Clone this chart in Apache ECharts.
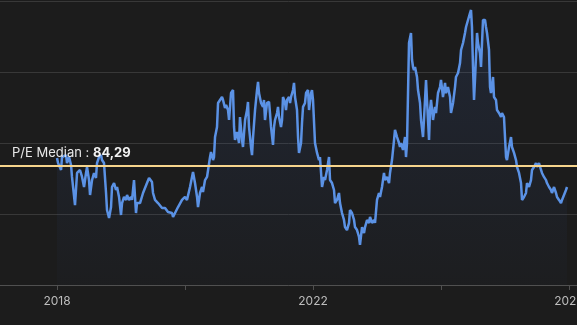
<!DOCTYPE html>
<html>
<head>
<meta charset="utf-8">
<script src="https://cdn.jsdelivr.net/npm/echarts@6/dist/echarts.min.js"></script>
<style>
  html, body { margin: 0; padding: 0; background: #1c1c1c; }
  #chart { width: 577px; height: 325px; }
</style>
</head>
<body>
<div id="chart"></div>
<script>
// dates as decimal years
const years = [
  2018.000, 2018.016, 2018.063, 2018.078, 2018.141, 2018.156, 2018.188, 2018.219, 2018.234, 2018.281,
  2018.313, 2018.359, 2018.391, 2018.422, 2018.453, 2018.469, 2018.500, 2018.516, 2018.547, 2018.578,
  2018.609, 2018.625, 2018.656, 2018.688, 2018.703, 2018.734, 2018.766, 2018.781, 2018.813, 2018.844,
  2018.859, 2018.891, 2018.922, 2018.938, 2018.969, 2019.000, 2019.016, 2019.047, 2019.078, 2019.094,
  2019.125, 2019.156, 2019.172, 2019.203, 2019.234, 2019.250, 2019.281, 2019.297, 2019.344, 2019.406,
  2019.438, 2019.484, 2019.500, 2019.531, 2019.578, 2019.641, 2019.688, 2019.734, 2019.797, 2019.813,
  2019.844, 2019.891, 2019.953, 2020.000, 2020.031, 2020.078, 2020.125, 2020.156, 2020.188, 2020.203,
  2020.234, 2020.266, 2020.281, 2020.313, 2020.344, 2020.359, 2020.391, 2020.406, 2020.438, 2020.453,
  2020.469, 2020.500, 2020.516, 2020.578, 2020.594, 2020.625, 2020.641, 2020.672, 2020.688, 2020.719,
  2020.750, 2020.766, 2020.781, 2020.813, 2020.844, 2020.859, 2020.891, 2020.906, 2020.938, 2020.969,
  2020.984, 2021.000, 2021.031, 2021.047, 2021.063, 2021.094, 2021.125, 2021.141, 2021.156, 2021.188,
  2021.219, 2021.234, 2021.250, 2021.281, 2021.313, 2021.328, 2021.344, 2021.375, 2021.391, 2021.406,
  2021.438, 2021.453, 2021.469, 2021.500, 2021.516, 2021.531, 2021.563, 2021.578, 2021.594, 2021.625,
  2021.641, 2021.656, 2021.688, 2021.703, 2021.719, 2021.750, 2021.766, 2021.781, 2021.813, 2021.828,
  2021.844, 2021.875, 2021.891, 2021.922, 2021.938, 2021.969, 2021.984, 2022.000, 2022.031, 2022.063,
  2022.094, 2022.109, 2022.141, 2022.172, 2022.188, 2022.219, 2022.250, 2022.266, 2022.297, 2022.328,
  2022.344, 2022.375, 2022.406, 2022.422, 2022.453, 2022.484, 2022.500, 2022.531, 2022.563, 2022.578,
  2022.609, 2022.641, 2022.656, 2022.688, 2022.719, 2022.734, 2022.766, 2022.797, 2022.813, 2022.844,
  2022.875, 2022.891, 2022.922, 2022.953, 2022.969, 2023.000, 2023.031, 2023.047, 2023.078, 2023.109,
  2023.125, 2023.156, 2023.188, 2023.203, 2023.234, 2023.266, 2023.281, 2023.313, 2023.344, 2023.359,
  2023.375, 2023.406, 2023.438, 2023.453, 2023.469, 2023.500, 2023.531, 2023.547, 2023.563, 2023.578,
  2023.594, 2023.625, 2023.641, 2023.672, 2023.688, 2023.719, 2023.750, 2023.766, 2023.781, 2023.813,
  2023.828, 2023.844, 2023.875, 2023.906, 2023.922, 2023.953, 2023.984, 2024.000, 2024.031, 2024.063,
  2024.078, 2024.109, 2024.141, 2024.156, 2024.188, 2024.219, 2024.234, 2024.266, 2024.297, 2024.313,
  2024.344, 2024.375, 2024.391, 2024.422, 2024.453, 2024.469, 2024.484, 2024.500, 2024.516, 2024.531,
  2024.563, 2024.578, 2024.609, 2024.625, 2024.656, 2024.688, 2024.703, 2024.719, 2024.750, 2024.766,
  2024.781, 2024.813, 2024.828, 2024.859, 2024.875, 2024.906, 2024.938, 2024.953, 2024.984, 2025.016,
  2025.031, 2025.063, 2025.094, 2025.109, 2025.141, 2025.172, 2025.188, 2025.219, 2025.250, 2025.266,
  2025.297, 2025.328, 2025.344, 2025.375, 2025.406, 2025.422, 2025.453, 2025.484, 2025.500, 2025.531,
  2025.563, 2025.578, 2025.609, 2025.641, 2025.656, 2025.688, 2025.719, 2025.734, 2025.766, 2025.797,
  2025.813, 2025.844, 2025.875, 2025.891, 2025.922, 2025.953, 2025.969
];

// P/E ratio
const pe = [
  89.4, 85.9, 81.0, 90.1, 91.5, 85.9, 90.1, 84.5, 76.1, 56.3,
  78.9, 81.0, 76.1, 69.0, 78.9, 83.1, 73.9, 63.4, 73.9, 78.9,
  75.4, 85.9, 90.1, 91.5, 88.0, 85.9, 64.8, 52.8, 47.2, 54.9,
  69.0, 71.8, 66.9, 69.0, 62.0, 49.3, 57.7, 62.0, 59.9, 63.4,
  59.9, 62.0, 59.9, 73.9, 50.7, 57.7, 58.5, 57.7, 64.8, 71.8,
  75.4, 72.5, 64.8, 59.9, 57.7, 54.2, 54.2, 51.4, 50.7, 47.9,
  49.3, 54.9, 59.9, 62.0, 59.9, 69.0, 79.6, 71.8, 62.0, 54.9,
  64.8, 69.0, 65.5, 73.9, 76.1, 77.5, 90.1, 93.7, 88.0, 90.1,
  104.2, 111.3, 128.2, 132.4, 130.3, 124.6, 126.8, 123.2, 116.2, 135.2,
  137.3, 111.3, 102.1, 107.7, 100.0, 118.3, 102.1, 97.2, 116.2, 123.2,
  128.9, 111.3, 97.2, 91.5, 104.2, 123.2, 137.3, 143.0, 135.2, 128.2,
  125.4, 130.3, 116.2, 128.2, 128.9, 121.1, 111.3, 98.6, 111.3, 116.2,
  121.1, 125.4, 118.3, 111.3, 116.2, 132.4, 128.2, 123.2, 130.3, 132.4,
  128.2, 132.4, 137.3, 142.3, 132.4, 123.2, 104.2, 93.0, 100.0, 114.1,
  125.4, 128.2, 135.2, 137.3, 123.2, 135.2, 137.3, 130.3, 100.0, 93.0,
  88.0, 90.1, 69.0, 76.1, 73.9, 81.0, 90.1, 73.9, 71.8, 66.9,
  57.7, 59.9, 64.8, 57.7, 50.7, 45.8, 40.8, 38.7, 43.7, 52.8,
  50.7, 45.8, 40.8, 38.7, 33.8, 28.2, 40.8, 36.6, 40.8, 45.8,
  43.7, 47.9, 43.7, 45.8, 43.7, 59.9, 64.8, 62.0, 69.0, 78.9,
  73.9, 76.1, 71.8, 78.9, 88.0, 102.1, 109.2, 104.2, 100.0, 97.2,
  100.0, 95.1, 104.2, 90.1, 100.0, 170.4, 177.5, 158.5, 153.5, 151.4,
  153.5, 146.5, 137.3, 128.2, 116.2, 104.2, 130.3, 144.4, 130.3, 102.1,
  123.2, 130.3, 116.2, 125.4, 121.1, 135.2, 139.4, 144.4, 132.4, 142.3,
  135.2, 139.4, 132.4, 121.1, 128.2, 139.4, 146.5, 149.3, 156.3, 165.5,
  170.4, 177.5, 181.7, 186.6, 191.5, 193.7, 181.7, 153.5, 130.3, 144.4,
  177.5, 170.4, 163.4, 153.5, 186.6, 186.6, 181.7, 177.5, 165.5, 139.4,
  135.2, 146.5, 132.4, 130.3, 123.2, 121.1, 118.3, 121.1, 118.3, 90.1,
  88.0, 97.2, 104.2, 97.2, 93.0, 88.0, 83.1, 78.9, 71.8, 59.9,
  62.0, 64.8, 71.8, 69.0, 73.9, 81.0, 83.1, 85.9, 83.1, 85.9,
  81.0, 78.9, 76.1, 73.9, 71.8, 69.0, 66.9, 64.8, 69.0, 64.8,
  62.0, 59.9, 57.7, 59.9, 59.9, 66.9, 69.0
];

const tickYears = [2018, 2020, 2022, 2024, 2026];
const labelYears = [2018, 2022, 2026];
const medianPE = 84.29;
const medianText = '84,29';

const chart = echarts.init(document.getElementById('chart'));

chart.setOption({
  backgroundColor: '#1c1c1c',
  animation: false,
  textStyle: { fontFamily: 'Inter, "Noto Sans", sans-serif' },
  grid: { left: 0, right: 0, top: 1, bottom: 40, containLabel: false, outerBoundsMode: 'none' },
  xAxis: {
    type: 'value',
    min: 2017.109,
    max: 2026.125,
    axisLine: { lineStyle: { color: '#505050', width: 1 } },
    axisTick: { customValues: tickYears, length: 5, lineStyle: { color: '#505050' } },
    axisLabel: {
      customValues: labelYears,
      color: '#bdbdbd',
      fontSize: 12,
      margin: 10,
      formatter: v => String(Math.round(v))
    },
    splitLine: { show: false }
  },
  yAxis: {
    type: 'value',
    min: 0,
    max: 200,
    interval: 50,
    axisLabel: { show: false },
    axisLine: { show: false },
    axisTick: { show: false },
    splitLine: { lineStyle: { color: '#383838', width: 1 } }
  },
  series: [{
    type: 'line',
    data: years.map((y, i) => [y, pe[i]]),
    showSymbol: false,
    lineStyle: { color: '#5b92e5', width: 2.5 },
    areaStyle: {
      color: new echarts.graphic.LinearGradient(0, 0, 0, 1, [
        { offset: 0, color: 'rgba(60, 100, 190, 0.22)' },
        { offset: 1, color: 'rgba(60, 100, 190, 0.03)' }
      ])
    },
    markLine: {
      silent: true,
      symbol: 'none',
      data: [{ yAxis: medianPE }],
      lineStyle: { color: '#f6d48c', width: 2, type: 'solid' },
      label: {
        position: 'insideStartTop',
        distance: [12, 6],
        formatter: '{a|P/E Median : }{b|' + medianText + '}',
        rich: {
          a: { color: '#e8e8e8', fontSize: 13 },
          b: { color: '#f2f2f2', fontSize: 13, fontWeight: 'bold' }
        }
      }
    }
  }]
});
</script>
</body>
</html>
